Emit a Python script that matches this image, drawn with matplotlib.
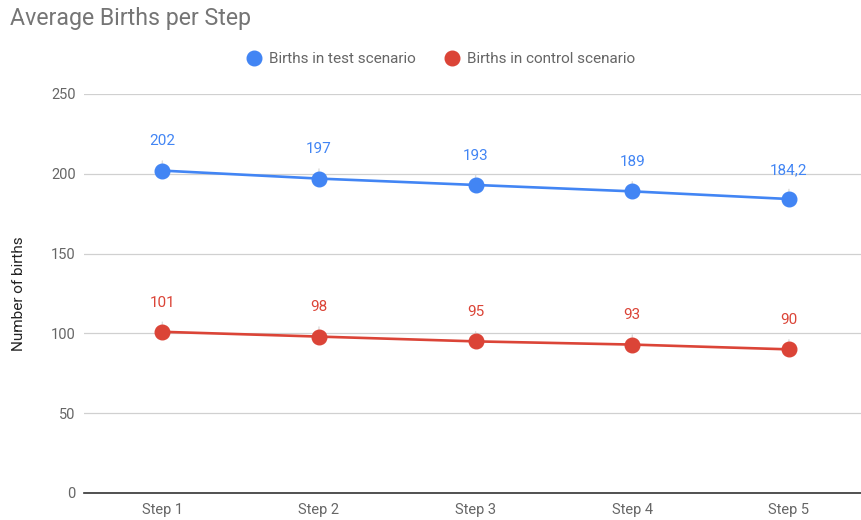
import matplotlib
matplotlib.use("Agg")
import matplotlib.pyplot as plt
from matplotlib.lines import Line2D

plt.rcParams['font.family'] = ['Roboto', 'DejaVu Sans']

categories = ["Step 1", "Step 2", "Step 3", "Step 4", "Step 5"]
test_births = [202, 197, 193, 189, 184.2]
control_births = [101, 98, 95, 93, 90]
test_labels = ["202", "197", "193", "189", "184,2"]
control_labels = ["101", "98", "95", "93", "90"]
yticks = [0, 50, 100, 150, 200, 250]

BLUE = "#4285F4"
RED = "#DB4437"

fig = plt.figure(figsize=(8.61, 5.2), dpi=100)
ax = fig.add_axes([84/861, 27/520, 1 - 84/861, (493-94)/520])

x = list(range(len(categories)))
names = ["Births in test scenario", "Births in control scenario"]
for vals, labels, color, name in [(test_births, test_labels, BLUE, names[0]),
                                  (control_births, control_labels, RED, names[1])]:
    ax.plot(x, vals, color=color, lw=1.9, marker='o', markersize=10.5, label=name, zorder=3)
    for xi, v, lab in zip(x, vals, labels):
        ax.annotate(lab, xy=(xi, v), xytext=(0, 21), textcoords='offset points',
                    ha='center', va='center', color=color, fontsize=11,
                    arrowprops=dict(arrowstyle='-', color='#dcdcdc', lw=1,
                                    shrinkA=7, shrinkB=4), zorder=2)

ax.set_xlim(-0.5, 4.46)
ax.set_ylim(0, 250)
ax.set_yticks(yticks)
ax.set_yticklabels([str(t) for t in yticks])
ax.set_xticks(x)
ax.set_xticklabels(categories)
ax.tick_params(axis='both', length=0, colors='#666666', labelsize=10.5)
ax.tick_params(axis='y', pad=6)
ax.tick_params(axis='x', pad=7)
ax.grid(axis='y', color='#d0d0d0', lw=0.9)
ax.set_axisbelow(True)
for s in ['top', 'right', 'left']:
    ax.spines[s].set_visible(False)
ax.spines['bottom'].set_color('#333333')
ax.spines['bottom'].set_linewidth(1.2)
ax.set_ylabel("Number of births", color='#222222', fontsize=11)
ax.yaxis.set_label_coords(-(84-26)/777, 0.5)

fig.text(10/861, 1 - 18/520, "Average Births per Step", fontsize=16.7, color='#757575',
         va='center', ha='left')

h2 = [Line2D([], [], color=c, marker='o', linestyle='None', markersize=10.5) for c in (BLUE, RED)]
fig.legend(h2, names, loc='center', bbox_to_anchor=(440/861, 1 - 59/520), ncol=2,
           frameon=False, fontsize=11, labelcolor='#666666', handletextpad=0.35,
           columnspacing=1.8, handlelength=1.2)

fig.savefig("out.png", dpi=100)
